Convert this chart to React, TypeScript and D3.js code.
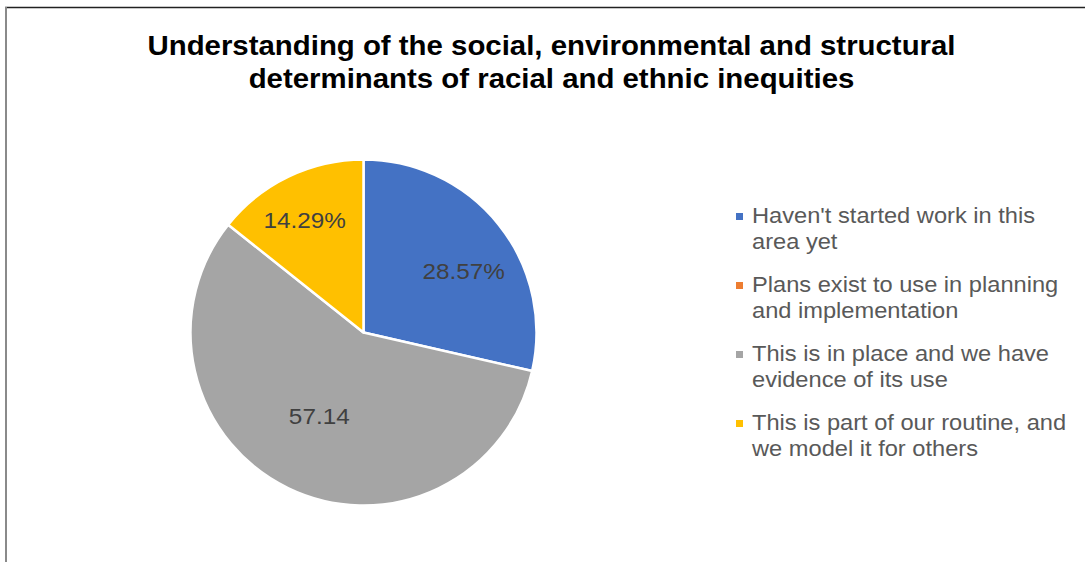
import React from "react";
import * as d3 from "d3";

const categories = [
  "Haven't started work in this area yet",
  "Plans exist to use in planning and implementation",
  "This is in place and we have evidence of its use",
  "This is part of our routine, and we model it for others",
];
const values = [28.57, 0, 57.14, 14.29];
const dataLabels = ["28.57%", "", "57.14", "14.29%"];
const legendLines = [
  ["Haven't started work in this", "area yet"],
  ["Plans exist to use in planning", "and implementation"],
  ["This is in place and we have", "evidence of its use"],
  ["This is part of our routine, and", "we model it for others"],
];
const titleLines = [
  "Understanding of the social, environmental and structural",
  "determinants of racial and ethnic inequities",
];

const colors = ["#4472C4", "#ED7D31", "#A5A5A5", "#FFC000"];
// label placement style: [radius fraction, angle shift in degrees]
const labelPlacement: [number, number][] = [
  [0.68, 7],
  [0.6, 0],
  [0.55, 2],
  [0.73, -2],
];

export default function App() {
  const W = 1090;
  const H = 562;
  const cx = 363.5;
  const cy = 332.5;
  const r = 173;

  const pie = d3
    .pie<number>()
    .sort(null)
    .value((d) => d);
  const arcs = pie(values);
  const arcGen = d3.arc<d3.PieArcDatum<number>>().innerRadius(0).outerRadius(r);

  const font = "'Liberation Sans', Arial, sans-serif";

  return (
    <svg
      width={W}
      height={H}
      style={{ position: "absolute", left: 0, top: 0, background: "#fff" }}
      fontFamily={font}
    >
      <rect x={0} y={0} width={W} height={H} fill="#fff" />
      <line x1={5} x2={1085} y1={7.5} y2={7.5} stroke="#222" strokeWidth={1.5} />
      <line x1={6} x2={6} y1={7} y2={H} stroke="#8a8a8a" strokeWidth={2} />

      {titleLines.map((t, i) => (
        <text
          key={i}
          transform={`translate(551.5,${55 + i * 33}) scale(1.05,1)`}
          textAnchor="middle"
          fontSize={28}
          fontWeight="bold"
          fill="#000"
        >
          {t}
        </text>
      ))}

      <g transform={`translate(${cx},${cy})`}>
        {arcs.map((a, i) =>
          a.value > 0 ? (
            <path
              key={i}
              d={arcGen(a) || ""}
              fill={colors[i]}
              stroke="#fff"
              strokeWidth={2.5}
              strokeLinejoin="round"
            />
          ) : null
        )}
        {arcs.map((a, i) => {
          if (!dataLabels[i]) return null;
          const [rf, shift] = labelPlacement[i];
          const ang = (a.startAngle + a.endAngle) / 2 + (shift * Math.PI) / 180;
          const x = Math.sin(ang) * r * rf;
          const y = -Math.cos(ang) * r * rf;
          return (
            <text
              key={"l" + i}
              transform={`translate(${x},${y}) scale(1.13,1)`}
              dy="0.36em"
              textAnchor="middle"
              fontSize={21.5}
              fill="#404040"
            >
              {dataLabels[i]}
            </text>
          );
        })}
      </g>

      <g>
        {categories.map((c, i) => {
          const y0 = 223 + i * 69;
          return (
            <g key={c}>
              <rect x={736} y={y0 - 10} width={7} height={7} fill={colors[i]} />
              {legendLines[i].map((ln, j) => (
                <text
                  key={j}
                  transform={`translate(752,${y0 + j * 26}) scale(1.1,1)`}
                  fontSize={21.5}
                  fill="#595959"
                >
                  {ln}
                </text>
              ))}
            </g>
          );
        })}
      </g>
    </svg>
  );
}
